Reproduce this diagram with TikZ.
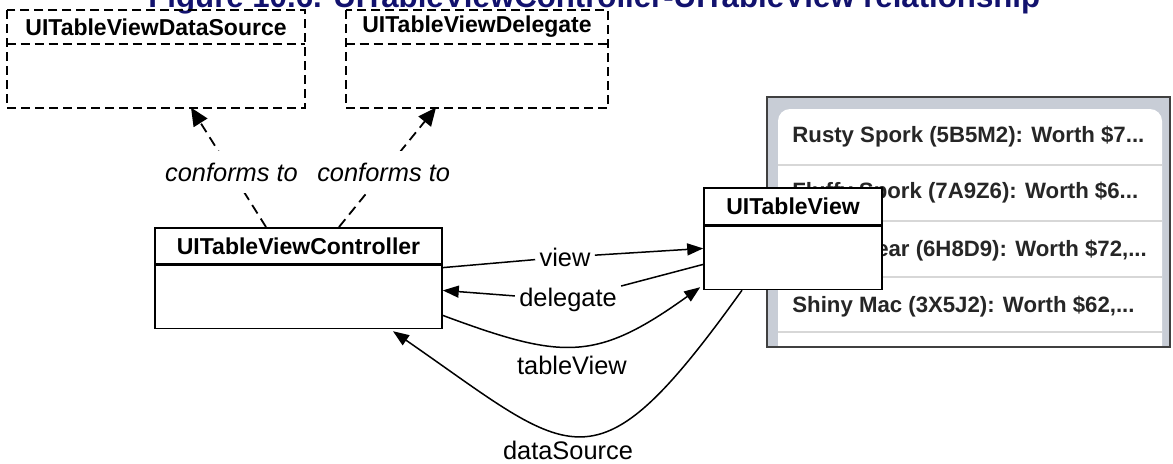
\documentclass[tikz,border=0pt]{standalone}
\usepackage{fontspec}
\setmainfont{Liberation Sans}
\usetikzlibrary{positioning,arrows.meta,calc}
\definecolor{titleblue}{RGB}{18,18,110}
\definecolor{panelgray}{RGB}{200,205,214}
\definecolor{rulegray}{RGB}{215,215,215}

\begin{document}
\begin{tikzpicture}[x=0.5pt,y=-0.5pt,
  proto/.style={inner sep=0pt, font=\fontsize{11.5}{13}\selectfont\bfseries},
  protoline/.style={line width=1pt, dash pattern=on 4.5pt off 2.5pt},
  cls/.style={draw, line width=0.8pt, fill=white, inner sep=0pt, font=\fontsize{11.5}{13}\selectfont\bfseries},
  lbl/.style={fill=white, inner sep=2pt, font=\fontsize{12.7}{14}\selectfont},
  conflbl/.style={fill=white, inner xsep=2pt, inner ysep=6pt, font=\fontsize{12.7}{14}\selectfont\itshape},
  conform/.style={line width=0.9pt, dash pattern=on 5pt off 3pt, -{Triangle[length=9pt,width=8pt]}},
  assoc/.style={line width=0.75pt, -{Triangle[length=8pt,width=6pt]}},
  row/.style={anchor=west, inner sep=0pt, font=\fontsize{11.1}{13}\selectfont\bfseries, text=black!85}
]
\useasboundingbox (0,0) rectangle (1173,463);

\node[anchor=base west, inner sep=0pt, text=titleblue, font=\fontsize{15.6}{18}\selectfont\bfseries] (title) at (148,7) {Figure 10.6. UITableViewController-UITableView relationship};

% protocols
\node[proto, anchor=north, minimum width=149pt, minimum height=16.5pt] (dsHead) at (156,10) {UITableViewDataSource};
\node[proto, below=0pt of dsHead, minimum width=149pt, minimum height=31.5pt] (dsBody) {};
\draw[protoline] (dsHead.north west) rectangle (dsBody.south east) (dsHead.south west) -- (dsHead.south east);
\node[proto, anchor=north, minimum width=131pt, minimum height=16.5pt] (dgHead) at (477,10) {UITableViewDelegate};
\node[proto, below=0pt of dgHead, minimum width=131pt, minimum height=31.5pt] (dgBody) {};
\draw[protoline] (dgHead.north west) rectangle (dgBody.south east) (dgHead.south west) -- (dgHead.south east);

% controller
\node[cls, anchor=north, minimum width=143.5pt, minimum height=18pt] (ctrlHead) at (298.5,227) {UITableViewController};
\node[cls, below=0pt of ctrlHead, minimum width=143.5pt, minimum height=31.5pt] (ctrlBody) {};

% screenshot of the table
\begin{scope}
\clip (767,97) rectangle (1170,347);
\fill[panelgray] (767,97) rectangle (1170,347);
\fill[white, rounded corners=6pt] (778,109) rectangle (1162,380);
\foreach \y in {165,221,277,332}
  \draw[rulegray, line width=0.6pt] (778,\y) -- (1162,\y);
\end{scope}
\draw[line width=0.8pt, black!75] (767,97) rectangle (1170,347);

\node[row] (row1) at (792,137) {Rusty Spork (5B5M2): Worth \$7...};
\node[row] (row2) at (792,193) {Fluffy Spork (7A9Z6): Worth \$6...};
\node[row] (row3) at (792,251) {Rusty Bear (6H8D9): Worth \$72,...};
\node[row] (row4) at (792,307) {Shiny Mac (3X5J2): Worth \$62,...};

% table view
\node[cls, anchor=north, minimum width=89pt, minimum height=18.5pt] (tvHead) at (793,187) {UITableView};
\node[cls, below=0pt of tvHead, minimum width=89pt, minimum height=31.5pt] (tvBody) {};

% connectors
\draw[conform] ($(ctrlHead.north)+(-32.5,0)$) -- node[conflbl, pos=0.46] (conf1) {conforms to} ($(dsBody.south)+(35,0)$);
\draw[conform] ($(ctrlHead.north)+(40.5,0)$) -- node[conflbl, pos=0.46] (conf2) {conforms to} ($(dgBody.south)+(-41,0)$);

\node[lbl] (viewLbl) at (565,257) {view};
\draw[assoc] ($(ctrlBody.north east)+(0,3)$) -- (viewLbl) -- ($(tvBody.west)+(0,-9.5)$);

\node[lbl] (delegateLbl) at (568,300) {delegate};
\draw[assoc] ($(tvBody.west)+(0,6.5)$) -- (delegateLbl) -- ($(ctrlBody.east)+(0,-6.5)$);

\draw[assoc] ($(ctrlBody.east)+(0,18.5)$) .. controls (563,360) and (596,362) .. ($(tvBody.south west)+(-3,-3)$);
\node[lbl, fill=none] (tableViewLbl) at (572,365) {tableView};

\draw[assoc] ($(tvBody.south)+(-51,0)$) .. controls (593,498) and (575,457) .. ($(ctrlBody.south)+(94.5,2)$);
\node[lbl, fill=none] (dataSourceLbl) at (568,450) {dataSource};
\end{tikzpicture}
\end{document}
